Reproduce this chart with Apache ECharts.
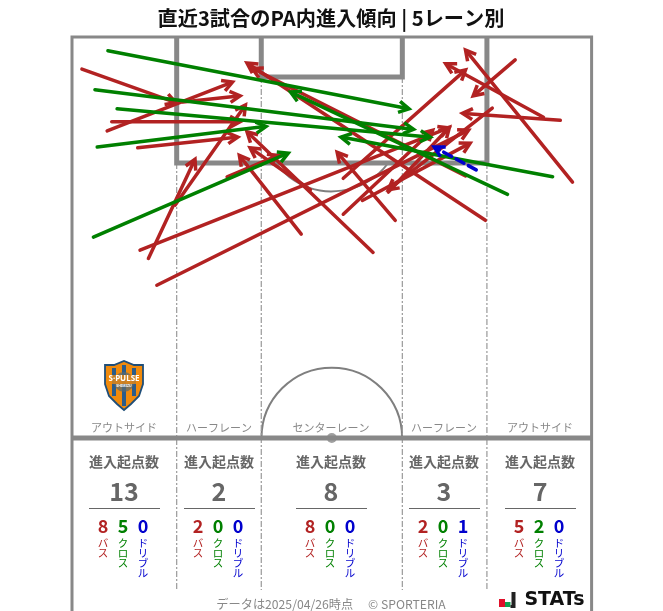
<!DOCTYPE html>
<html><head><meta charset="utf-8">
<style>html,body{margin:0;padding:0;background:#fff}#c{width:663px;height:611px}</style>
<script src="https://cdn.jsdelivr.net/npm/echarts@6/dist/echarts.min.js"></script>
</head><body><div id="c"></div>
<script>
// arrows in pitch metres: [startX, startY, endX, endY]; x across the pitch, y from the goal line
const passArrows = [
  [1.3,4.2,13.6,8.6],[4.6,12.3,21.0,5.9],[5.2,11.1,22.0,11.1],[8.6,14.5,21.7,13.1],
  [10.0,29.0,16.1,16.0],[8.9,27.9,49.3,11.9],[11.1,32.5,51.9,12.2],[13.5,22.0,22.7,8.9],
  [14.5,8.5,22.0,7.7],[20.3,18.3,27.0,15.5],
  [39.4,28.2,22.9,12.4],[30.0,25.8,21.9,15.5],[42.3,24.0,34.7,15.1],[35.5,18.5,51.5,4.3],
  [31.2,20.0,23.3,14.5],[35.5,23.2,47.2,12.2],[38.0,21.4,52.1,13.9],[41.4,20.3,49.4,11.8],
  [54.1,24.0,22.9,3.4],[51.5,18.2,23.6,4.1],
  [58.0,3.0,52.5,7.7],[65.5,19.0,51.5,1.7],[63.9,10.9,51.1,10.0],[61.7,10.5,48.9,3.5],[55.0,9.3,41.4,20.0]
];
const crossArrows = [
  [4.7,1.8,44.1,9.4],[3.0,6.9,44.7,12.1],[5.9,9.4,46.9,13.1],[3.3,14.4,25.4,11.7],
  [2.8,26.2,28.3,15.2],[57.0,20.6,28.6,7.2],[62.9,18.3,35.2,13.1]
];
const dribbleArrows = [[52.9,17.4,47.4,14.4]];

const laneNames = ['アウトサイド','ハーフレーン','センターレーン','ハーフレーン','アウトサイド'];
const laneTotals = [13,2,8,3,7];
const lanePasses = [8,2,8,2,5];
const laneCrosses = [5,0,0,0,2];
const laneDribbles = [0,0,0,1,0];
const laneCenters = [124,219,331,444,540];

// pitch markings in metres
const border = [[0,75.2],[0,0],[68,0],[68,75.2]];
const halfway = [[0,52.5],[68,52.5]];
const penaltyBox = [[13.7,0],[13.7,16.5],[54.3,16.5],[54.3,0]];
const goalArea = [[24.77,0],[24.77,5.24],[43.23,5.24],[43.23,0]];
const laneLines = [[[13.7,16.5],[13.7,72.4]],[[24.77,5.24],[24.77,72.4]],[[43.23,5.24],[43.23,72.4]],[[54.3,16.5],[54.3,72.4]]];
const centreSpot = [[34,52.5]];

const GREY='#888888', TEXT='#666666', RED='#b22222', GREEN='#008000', BLUE='#0000cd';
const FONT='"Noto Sans CJK JP"';

function arrowSeries(data,color,dash){
  return {type:'custom',data,z:dash?6:(color===GREEN?5:4),encode:{x:[0,2],y:[1,3]},clip:false,silent:true,
    renderItem(p,api){
      const a=api.coord([api.value(0),api.value(1)]),b=api.coord([api.value(2),api.value(3)]);
      const t=Math.atan2(b[1]-a[1],b[0]-a[0]),L=11.5,w=0.5;
      const b1=[b[0]-L*Math.cos(t-w),b[1]-L*Math.sin(t-w)],b2=[b[0]-L*Math.cos(t+w),b[1]-L*Math.sin(t+w)];
      const back=[b[0]-1.5*Math.cos(t),b[1]-1.5*Math.sin(t)];
      return {type:'group',children:[
        {type:'line',shape:{x1:a[0],y1:a[1],x2:back[0],y2:back[1]},style:{stroke:color,lineWidth:3.5,lineCap:'round',lineDash:dash?[9,5]:null,fill:null}},
        {type:'polyline',shape:{points:[b1,b,b2]},style:{stroke:color,lineWidth:3.5,fill:null,lineJoin:'miter'}}
      ]};
    }};
}
function pitchLine(data,width,extra){
  return Object.assign({type:'line',data,showSymbol:false,symbol:'none',silent:true,clip:false,z:2,
    lineStyle:{color:GREY,width,cap:'butt',join:'miter'}},extra||{});
}
function arcSeries(cx,cy,r,start,end){
  return {type:'custom',data:[[cx,cy,r]],clip:false,silent:true,z:1,encode:{x:0,y:1},
    renderItem(p,api){
      const c=api.coord([api.value(0),api.value(1)]);
      const rad=api.size([api.value(2),0])[0];
      return {type:'arc',shape:{cx:c[0],cy:c[1],r:rad,startAngle:start,endAngle:end,clockwise:true},
        style:{stroke:'#7f7f7f',lineWidth:2,fill:null}};
    }};
}

const series=[
  arcSeries(34,52.5,9.2,Math.PI,2*Math.PI),
  arcSeries(34,11,9.2,0.644,2.498),
  pitchLine(border,3),pitchLine(halfway,5),pitchLine(penaltyBox,5),pitchLine(goalArea,5)
];
laneLines.forEach(l=>series.push(pitchLine(l,1.2,{z:1,lineStyle:{color:'#999',width:1.2,type:[6,2,2,2]}})));
series.push({type:'scatter',data:centreSpot,symbolSize:10,silent:true,z:3,itemStyle:{color:GREY}});
series.push(arrowSeries(passArrows,RED),arrowSeries(crossArrows,GREEN),arrowSeries(dribbleArrows,BLUE,true));

const g=[];
function txt(x,y,s,size,color,weight,extra){
  g.push({type:'text',x,y,z:20,silent:true,style:Object.assign({text:s,fontFamily:FONT,fontSize:size,fill:color,fontWeight:weight||'normal',align:'center',verticalAlign:'middle'},extra||{})});
}
txt(331,18,'直近3試合のPA内進入傾向 | 5レーン別',20.2,'#111','bold');
laneNames.forEach((n,i)=>{
  const c=laneCenters[i];
  txt(c,428,n,11,'#888888');
  txt(c,462,'進入起点数',14,TEXT,'bold');
  txt(c,491,String(laneTotals[i]),25,TEXT,'bold');
  g.push({type:'line',z:20,silent:true,shape:{x1:c-35,y1:508.5,x2:c+36,y2:508.5},style:{stroke:TEXT,lineWidth:1}});
  [[lanePasses,'バス',RED],[laneCrosses,'クロス',GREEN],[laneDribbles,'ドリブル',BLUE]].forEach((k,j)=>{
    const x=c-21+20*j;
    txt(x,526,String(k[0][i]),18,k[2],'bold');
    txt(x,538,k[1].split('').join('\n'),10.5,k[2],'normal',{verticalAlign:'top',lineHeight:10});
  });
});
txt(331,604,'データは2025/04/26時点　 © SPORTERIA',12.2,'#888888');
// STATs mark
g.push({type:'rect',z:20,silent:true,shape:{x:499,y:599,width:6,height:8},style:{fill:'#e0102a'}});
g.push({type:'rect',z:20,silent:true,shape:{x:505,y:602,width:5.5,height:5},style:{fill:'#10a050'}});
g.push({type:'polygon',z:20,silent:true,shape:{points:[[511.5,592],[515.5,592],[515.5,608],[510.5,608],[510.5,605],[511.5,605]]},style:{fill:'#222'}});
txt(554.5,600,'STATs',19,'#111','bold',{fontFamily:'"DejaVu Sans"'});
// club crest
g.push({type:'polygon',z:19,silent:true,shape:{points:[[105,365],[114,365],[124,361],[134,365],[143,365],[143,384],[139,396],[131,404],[124,410],[117,404],[109,396],[105,384]]},style:{fill:'#f08a0c',stroke:'#1f4e79',lineWidth:1.8}});
[112,122,132].forEach(x=>{g.push({type:'rect',z:19,silent:true,shape:{x:x,y:x===122?365:368,width:4,height:x===122?41:28},style:{fill:'#2b5c8a'}});});
g.push({type:'circle',z:19,silent:true,shape:{cx:124,cy:382,r:10},style:{fill:'#5a6a70',opacity:.75}});
g.push({type:'rect',z:19,silent:true,shape:{x:106,y:375,width:36,height:9},style:{fill:'#f08a0c',opacity:.75}});
txt(124,379,'S·PULSE',8,'#fff','bold',{fontFamily:'"Noto Sans"'});
txt(124,386,'SHIMIZU',3.5,'#fff','bold',{fontFamily:'"Noto Sans"'});

const chart=echarts.init(document.getElementById('c'),null,{renderer:'canvas'});
chart.setOption({
  animation:false,backgroundColor:'#fff',
  grid:{left:72,top:37,width:519.6,height:574,containLabel:false},
  xAxis:{type:'value',min:0,max:68,show:false},
  yAxis:{type:'value',min:0,max:75.15,inverse:true,show:false},
  series,graphic:{elements:g}
});
</script></body></html>
